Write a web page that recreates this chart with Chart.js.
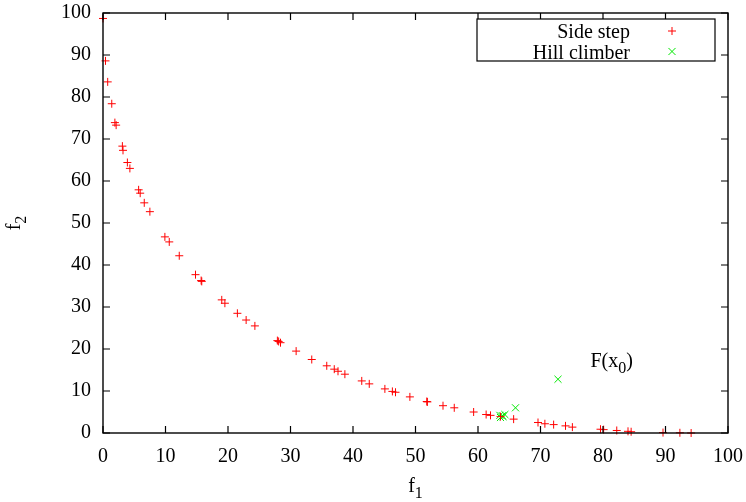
<!DOCTYPE html>
<html>
<head>
<meta charset="utf-8">
<script src="https://cdn.jsdelivr.net/npm/chart.js@4.4.1/dist/chart.umd.min.js"></script>
<style>
  html, body { margin: 0; padding: 0; background: #fff; }
  #wrap { width: 746px; height: 502px; position: relative; }
</style>
</head>
<body>
<div id="wrap"><canvas id="c" width="746" height="502"></canvas></div>
<script>
// ---- data ----
const sideStepF1 = [0.0, 0.4, 0.75, 1.4, 1.9, 2.1, 3.1, 3.2, 3.9, 4.3, 5.7, 5.95, 6.6, 7.5, 9.9, 10.6, 12.2, 14.8, 15.7, 15.8, 19.0, 19.5, 21.5, 22.9, 24.3, 27.9, 28.1, 28.4, 30.9, 33.4, 35.8, 37.0, 37.6, 38.7, 41.4, 42.6, 45.1, 46.3, 46.8, 49.1, 51.8, 51.9, 54.4, 56.2, 59.3, 61.3, 62.0, 63.6, 65.7, 69.6, 70.7, 72.1, 74.0, 75.1, 79.6, 80.1, 82.2, 84.0, 84.5, 89.6, 92.3, 94.1];
const sideStepF2 = [98.7, 88.6, 83.6, 78.4, 73.9, 73.3, 68.3, 67.3, 64.4, 63.0, 57.9, 57.1, 54.8, 52.7, 46.7, 45.5, 42.2, 37.7, 36.3, 36.1, 31.7, 30.9, 28.5, 26.9, 25.5, 22.0, 21.8, 21.5, 19.5, 17.5, 16.0, 15.2, 14.7, 14.0, 12.4, 11.7, 10.5, 9.9, 9.7, 8.6, 7.5, 7.4, 6.5, 6.0, 5.0, 4.4, 4.2, 3.9, 3.3, 2.5, 2.2, 2.0, 1.7, 1.4, 0.9, 0.8, 0.6, 0.4, 0.3, 0.1, 0.05, 0.0];
const hillF1 = [72.8, 66.0, 64.3, 63.9, 63.6, 64.0, 63.5];
const hillF2 = [12.8, 6.0, 4.4, 4.1, 3.7, 3.9, 4.2];
const xTicks = [0, 10, 20, 30, 40, 50, 60, 70, 80, 90, 100];
const yTicks = [0, 10, 20, 30, 40, 50, 60, 70, 80, 90, 100];
const seriesNames = ['Side step', 'Hill climber'];
const startLabel = { x: 78, y: 17, main: 'F(x', sub: '0', tail: ')' };
const xTitle = { main: 'f', sub: '1' };
const yTitle = { main: 'f', sub: '2' };

const FONT = '"Liberation Serif", "DejaVu Serif", serif';
const RED = '#ff0000';
const GREEN = '#00e800';

const toPts = (xs, ys) => xs.map((v, i) => ({ x: v, y: ys[i] }));

function drawSubText(ctx, x, y, main, sub, tail, size, align) {
  ctx.save();
  ctx.fillStyle = '#000';
  ctx.textBaseline = 'alphabetic';
  ctx.font = size + 'px ' + FONT;
  const wMain = ctx.measureText(main).width;
  ctx.font = Math.round(size * 0.8) + 'px ' + FONT;
  const wSub = ctx.measureText(sub).width;
  ctx.font = size + 'px ' + FONT;
  const wTail = tail ? ctx.measureText(tail).width : 0;
  const total = wMain + wSub + wTail;
  let sx = align === 'center' ? x - total / 2 : x;
  ctx.textAlign = 'left';
  ctx.fillText(main, sx, y);
  ctx.font = Math.round(size * 0.8) + 'px ' + FONT;
  ctx.fillText(sub, sx + wMain, y + size * 0.3);
  if (tail) {
    ctx.font = size + 'px ' + FONT;
    ctx.fillText(tail, sx + wMain + wSub, y);
  }
  ctx.restore();
}

function drawMarker(ctx, style, x, y, r, color) {
  ctx.save();
  ctx.strokeStyle = color;
  ctx.lineWidth = 1;
  ctx.beginPath();
  if (style === 'cross') {
    ctx.moveTo(x - r, y); ctx.lineTo(x + r, y);
    ctx.moveTo(x, y - r); ctx.lineTo(x, y + r);
  } else {
    const d = r * Math.SQRT1_2;
    ctx.moveTo(x - d, y - d); ctx.lineTo(x + d, y + d);
    ctx.moveTo(x - d, y + d); ctx.lineTo(x + d, y - d);
  }
  ctx.stroke();
  ctx.restore();
}

const gnuFrame = {
  id: 'gnuFrame',
  afterDatasetsDraw(chart) {
    const ctx = chart.ctx;
    const a = chart.chartArea;
    const xs = chart.scales.x, ys = chart.scales.y;
    ctx.save();
    ctx.strokeStyle = '#000';
    ctx.lineWidth = 1.4;
    ctx.strokeRect(a.left, a.top, a.right - a.left, a.bottom - a.top);
    const L = 7;
    ctx.lineWidth = 1.2;
    ctx.beginPath();
    xTicks.forEach(v => {
      const px = xs.getPixelForValue(v);
      ctx.moveTo(px, a.bottom); ctx.lineTo(px, a.bottom - L);
      ctx.moveTo(px, a.top); ctx.lineTo(px, a.top + L);
    });
    yTicks.forEach(v => {
      const py = ys.getPixelForValue(v);
      ctx.moveTo(a.left, py); ctx.lineTo(a.left + L, py);
      ctx.moveTo(a.right, py); ctx.lineTo(a.right - L, py);
    });
    ctx.stroke();
    ctx.restore();

    // axis titles
    drawSubText(ctx, (a.left + a.right) / 2, 492, xTitle.main, xTitle.sub, '', 20, 'center');
    ctx.save();
    ctx.translate(20, (a.top + a.bottom) / 2);
    ctx.rotate(-Math.PI / 2);
    drawSubText(ctx, 0, 0, yTitle.main, yTitle.sub, '', 20, 'center');
    ctx.restore();

    // F(x0) label
    drawSubText(ctx, xs.getPixelForValue(startLabel.x), ys.getPixelForValue(startLabel.y) + 5,
      startLabel.main, startLabel.sub, startLabel.tail, 20, 'left');

    // legend box
    const bx = a.right - 251, by = a.top + 6, bw = 238, bh = 42;
    ctx.save();
    ctx.fillStyle = '#fff';
    ctx.fillRect(bx, by, bw, bh);
    ctx.strokeStyle = '#000';
    ctx.lineWidth = 1.2;
    ctx.strokeRect(bx, by, bw, bh);
    ctx.fillStyle = '#000';
    ctx.font = '20px ' + FONT;
    ctx.textAlign = 'right';
    ctx.textBaseline = 'middle';
    chart.data.datasets.forEach((ds, i) => {
      const cy = by + 12 + i * 20.5;
      ctx.fillStyle = '#000';
      ctx.fillText(ds.label, bx + 153, cy + 2);
      drawMarker(ctx, ds.pointStyle, bx + 195, cy, ds.pointStyle === 'cross' ? 4 : 5, ds.borderColor);
    });
    ctx.restore();
  }
};

new Chart(document.getElementById('c'), {
  type: 'scatter',
  data: {
    datasets: [
      {
        label: seriesNames[0],
        data: toPts(sideStepF1, sideStepF2),
        pointStyle: 'cross',
        pointRadius: 4,
        pointHoverRadius: 4,
        borderColor: RED,
        backgroundColor: RED,
        borderWidth: 1,
        clip: false
      },
      {
        label: seriesNames[1],
        data: toPts(hillF1, hillF2),
        pointStyle: 'crossRot',
        pointRadius: 5,
        pointHoverRadius: 5,
        borderColor: GREEN,
        backgroundColor: GREEN,
        borderWidth: 1,
        clip: false
      }
    ]
  },
  options: {
    responsive: false,
    animation: false,
    devicePixelRatio: 1,
    layout: { padding: { left: 0, right: 18, top: 13, bottom: 0 } },
    plugins: { legend: { display: false }, tooltip: { enabled: false } },
    scales: {
      x: {
        type: 'linear', min: 0, max: 100,
        afterFit(s) { s.height = 69; s.paddingLeft = 0; s.paddingRight = 0; },
        afterBuildTicks(s) { s.ticks = xTicks.map(v => ({ value: v })); },
        grid: { display: false, drawTicks: false },
        border: { display: false },
        ticks: { color: '#000', font: { family: FONT, size: 20 }, padding: 12, maxRotation: 0, autoSkip: false },
        title: { display: false, text: 'f1' }
      },
      y: {
        type: 'linear', min: 0, max: 100,
        afterFit(s) { s.width = 103; s.paddingTop = 0; s.paddingBottom = 0; },
        afterBuildTicks(s) { s.ticks = yTicks.map(v => ({ value: v })); },
        grid: { display: false, drawTicks: false },
        border: { display: false },
        ticks: { color: '#000', font: { family: FONT, size: 20 }, padding: 12, autoSkip: false },
        title: { display: false, text: 'f2' }
      }
    }
  },
  plugins: [gnuFrame]
});
</script>
</body>
</html>
